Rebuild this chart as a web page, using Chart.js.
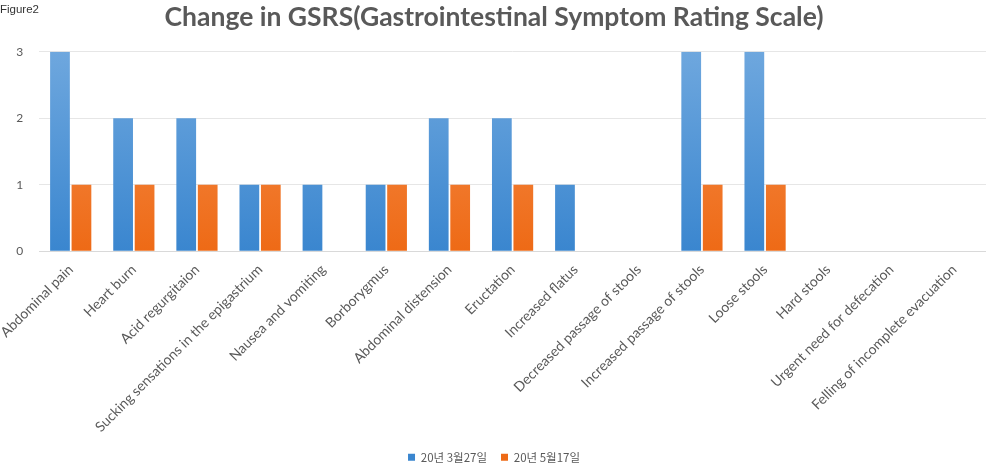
<!DOCTYPE html>
<html>
<head>
<meta charset="utf-8">
<script src="https://cdn.jsdelivr.net/npm/chart.js@4/dist/chart.umd.min.js"></script>
<style>
  html, body { margin: 0; padding: 0; background: #fff; }
  #wrap { position: relative; width: 986px; height: 465px; overflow: hidden; }
  #fig { position: absolute; left: 0px; top: 3px; font: 11.5px "Liberation Sans", Arial, sans-serif; color: #333; }
  canvas { display: block; }
</style>
</head>
<body>
<div id="wrap">
  <div id="fig">Figure2</div>
  <canvas id="c" width="986" height="465"></canvas>
</div>
<script>
const categories = [
  "Abdominal pain", "Heart burn", "Acid regurgitaion",
  "Sucking sensations in the epigastrium", "Nausea and vomiting",
  "Borborygmus", "Abdominal distension", "Eructation", "Increased flatus",
  "Decreased passage of stools", "Increased passage of stools",
  "Loose stools", "Hard stools", "Urgent need for defecation",
  "Felling of incomplete evacuation"
];
const seriesMarch = [3, 2, 2, 1, 1, 1, 2, 2, 1, 0, 3, 3, 0, 0, 0];
const seriesMay   = [1, 1, 1, 1, 0, 1, 1, 1, 0, 0, 1, 1, 0, 0, 0];
const seriesNames = ["20년 3월27일", "20년 5월17일"];
const yTicks = [0, 1, 2, 3];
const titleText = "Change in GSRS(Gastrointestinal Symptom Rating Scale)";

function grad(ctx, top, bottom, solid) {
  const chart = ctx.chart;
  const a = chart.chartArea;
  if (!a) return solid;
  const g = chart.ctx.createLinearGradient(0, a.top, 0, a.bottom);
  g.addColorStop(0, top);
  g.addColorStop(1, bottom);
  return g;
}

new Chart(document.getElementById('c'), {
  type: 'bar',
  data: {
    labels: categories,
    datasets: [
      {
        label: seriesNames[0],
        data: seriesMarch,
        backgroundColor: (ctx) => grad(ctx, '#6ea7de', '#3a86cf', '#5b9bd5'),
        borderWidth: 0
      },
      {
        label: seriesNames[1],
        data: seriesMay,
        backgroundColor: (ctx) => grad(ctx, '#f5904f', '#ee6a16', '#ed7d31'),
        borderWidth: 0
      }
    ]
  },
  options: {
    responsive: false,
    animation: false,
    layout: { padding: { left: -5, right: -7, top: 0, bottom: -8 } },
    datasets: { bar: { categoryPercentage: 0.68, barPercentage: 0.92 } },
    plugins: {
      title: {
        display: true,
        text: titleText,
        color: '#595959',
        font: { family: 'Lato', size: 26.5, weight: 'bold' },
        padding: { top: 2, bottom: 18 }
      },
      legend: {
        position: 'bottom',
        labels: {
          boxWidth: 7,
          boxHeight: 7,
          color: '#595959',
          font: { family: '"Noto Sans CJK KR", sans-serif', size: 11.5 },
          padding: 14
        }
      },
      tooltip: { enabled: false }
    },
    scales: {
      x: {
        grid: { display: false },
        border: { display: true, color: '#d9d9d9' },
        ticks: {
          color: '#595959',
          font: { family: 'Lato', size: 14 },
          minRotation: 45,
          maxRotation: 45,
          autoSkip: false,
          padding: 2
        }
      },
      y: {
        min: 0,
        max: 3,
        afterBuildTicks: (axis) => { axis.ticks = yTicks.map(v => ({ value: v })); },
        grid: { color: '#e6e6e6', drawTicks: false },
        border: { display: false },
        ticks: {
          color: '#595959',
          font: { family: 'Lato', size: 12 },
          padding: 16
        }
      }
    }
  }
});
</script>
</body>
</html>
